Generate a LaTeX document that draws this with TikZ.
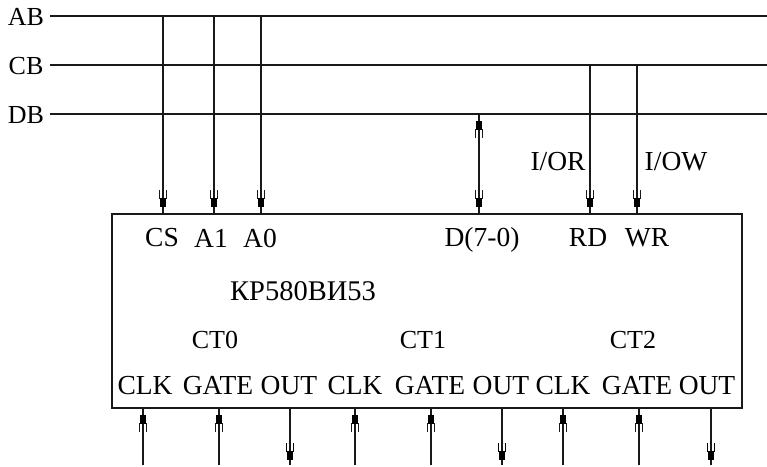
\documentclass[tikz,border=0pt]{standalone}
\usepackage{fontspec}
\setmainfont{Liberation Serif}
\usetikzlibrary{decorations.markings}
\tikzset{
  x=1pt,y=-1pt,
  txt/.style={inner sep=0pt,font=\fontsize{27.5}{29}\selectfont,anchor=center},
  txs/.style={inner sep=0pt,font=\fontsize{26}{28}\selectfont,anchor=center},
  wire/.style={line width=1.3pt,draw=black!90},
  endtip/.style={postaction={decorate,decoration={markings,mark=at position 1 with {
    \fill[black] (-16pt,-2.8pt) rectangle (-7pt,2.8pt);
    \draw[line width=1.2pt] (-24pt,-3.2pt) -- (-15pt,-3.2pt) (-24pt,3.2pt) -- (-15pt,3.2pt);}}}},
  starttip/.style={postaction={decorate,decoration={markings,mark=at position 0 with {
    \fill[black] (16pt,-2.8pt) rectangle (7pt,2.8pt);
    \draw[line width=1.2pt] (24pt,-3.2pt) -- (15pt,-3.2pt) (24pt,3.2pt) -- (15pt,3.2pt);}}}},
}
\begin{document}
\begin{tikzpicture}
\useasboundingbox (0,0) rectangle (767,466);
\node[draw,wire,fill=white,minimum width=630pt,minimum height=194pt,inner sep=0pt] (box) at (427,311) {};
% buses
\node[txs] (ab) at (26,17) {AB};
\node[txs] (cb) at (26,66) {CB};
\node[txs] (db) at (26,115) {DB};
\coordinate (abe) at (767,16);
\coordinate (cbe) at (767,65);
\coordinate (dbe) at (767,114);
\coordinate (abs) at (50,16);
\coordinate (cbs) at (50,65);
\coordinate (dbs) at (50,114);
\draw[wire] (abs) -- (abe);
\draw[wire] (cbs) -- (cbe);
\draw[wire] (dbs) -- (dbe);
% top pins
\node[txt] (cs) at (162,238) {CS};
\node[txt] (a1) at (211,238) {A1};
\node[txt] (a0) at (260,238) {A0};
\node[txt] (d) at (482,240) {D(7-0)};
\node[txt] (rd) at (588,238) {RD};
\node[txt] (wr) at (647,238) {WR};
\node[txt] (ior) at (558,162) {I/OR};
\node[txt] (iow) at (676,162) {I/OW};
\coordinate (t1) at (163,16);\coordinate (b1) at (163,214);
\coordinate (t2) at (214,16);\coordinate (b2) at (214,214);
\coordinate (t3) at (261,16);\coordinate (b3) at (261,214);
\coordinate (t4) at (479,114);\coordinate (b4) at (479,214);
\coordinate (t5) at (590,65);\coordinate (b5) at (590,214);
\coordinate (t6) at (637,65);\coordinate (b6) at (637,214);
\draw[wire,endtip] (t1) -- (b1);
\draw[wire,endtip] (t2) -- (b2);
\draw[wire,endtip] (t3) -- (b3);
\draw[wire,endtip,starttip] (t4) -- (b4);
\draw[wire,endtip] (t5) -- (b5);
\draw[wire,endtip] (t6) -- (b6);
% inner labels
\node[inner sep=0pt,font=\fontsize{28.5}{30}\selectfont] (name) at (303,291) {КР580ВИ53};
\node[txs] (ct0) at (215,340) {CT0};
\node[txs] (ct1) at (423,340) {CT1};
\node[txs] (ct2) at (633,340) {CT2};
\foreach \n/\t/\x in {c1/CLK/145,g1/GATE/218,o1/OUT/289,c2/CLK/355,g2/GATE/430,o2/OUT/501,c3/CLK/563,g3/GATE/637,o3/OUT/707}
  \node[txt] (\n) at (\x,386) {\t};
% bottom pins
\foreach \n/\x in {1/143,2/219,3/355,4/431,5/563,6/639}{
  \coordinate (p\n) at (\x,465);\coordinate (q\n) at (\x,408);
  \draw[wire,endtip] (p\n) -- (q\n);
}
\foreach \n/\x in {7/290,8/502,9/711}{
  \coordinate (p\n) at (\x,408);\coordinate (q\n) at (\x,465);
  \draw[wire] (p\n) -- (q\n);
  \fill[black] (\x-2.8,451) rectangle (\x+2.8,460);
  \draw[line width=1.2pt] (\x-3.2,443) -- (\x-3.2,452) (\x+3.2,443) -- (\x+3.2,452);
}
\end{tikzpicture}
\end{document}
